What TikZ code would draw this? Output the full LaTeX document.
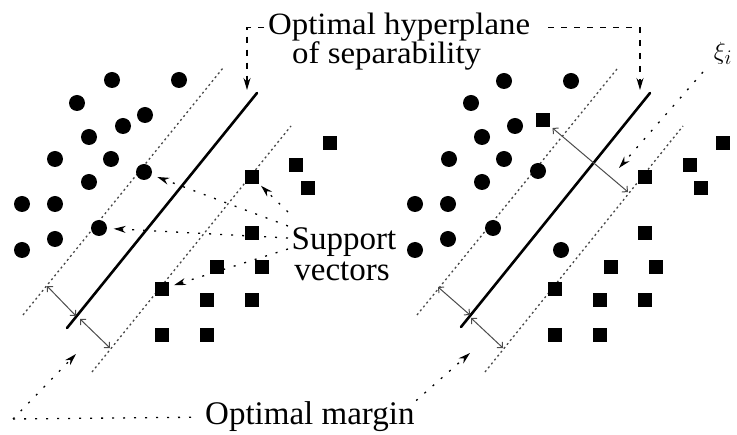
\documentclass[tikz,border=0pt]{standalone}
\usepackage{fontspec}
\setmainfont{Liberation Serif}
\newfontfamily\widefont[FakeStretch=1.06]{Liberation Serif}
\usetikzlibrary{arrows.meta}
\begin{document}
\begin{tikzpicture}[x=1pt,y=-1pt,
  dotn/.style={circle,fill=black,inner sep=0pt,minimum size=16pt},
  sqn/.style={rectangle,fill=black,inner sep=0pt,minimum size=14pt},
  hyper/.style={line width=2.6pt,line cap=round},
  marg/.style={line width=1.3pt,gray!55!black,dash pattern=on 2pt off 3pt},
  annot/.style={line width=1.3pt,dash pattern=on 2pt off 9pt,-{Stealth[length=12pt,width=7pt]}},
  plainann/.style={line width=1.3pt,dash pattern=on 2pt off 9pt},
  hyplab/.style={line width=1.3pt,dash pattern=on 6pt off 7pt,-{Stealth[length=12pt,width=7pt]}},
  dbl/.style={line width=1pt,gray!60!black,{Straight Barb[length=4pt,width=8pt]}-{Straight Barb[length=4pt,width=8pt]}},
  lab/.style={inner sep=0pt,font=\fontsize{33}{33}\selectfont},
  hlab/.style={inner sep=0pt,font=\widefont\fontsize{31}{31}\selectfont}
]
\useasboundingbox (0,0) rectangle (737,435);

% ---------- left panel lines ----------
\coordinate (LHa) at (67,328);  \coordinate (LHb) at (257,93);
\coordinate (LMa) at (23,315);  \coordinate (LMb) at (223,68);
\coordinate (LNa) at (92,372);  \coordinate (LNb) at (291,126);
\draw[marg] (LMa) -- (LMb);
\draw[marg] (LNa) -- (LNb);
\draw[hyper] (LHa) -- (LHb);

% ---------- right panel lines ----------
\coordinate (RHa) at (461,327); \coordinate (RHb) at (650,93);
\coordinate (RMa) at (417,315); \coordinate (RMb) at (617,69);
\coordinate (RNa) at (485,372); \coordinate (RNb) at (683,126);
\draw[marg] (RMa) -- (RMb);
\draw[marg] (RNa) -- (RNb);
\draw[hyper] (RHa) -- (RHb);

% ---------- left circles ----------
\foreach \n/\x/\y in {1/112/80,2/179/80,3/77/103,4/145/115,5/123/126,6/89/137,7/55/159,8/111/159,9/144/172,10/89/182,11/22/204,12/55/204,13/99/228,14/55/239,15/22/250}
  \node[dotn] (c\n) at (\x,\y) {};
% ---------- right circles ----------
\foreach \n/\x/\y in {1/504/81,2/571/81,3/471/103,4/515/126,5/482/137,6/449/159,7/504/159,8/538/171,9/482/182,10/415/204,11/448/204,12/493/228,13/448/239,14/415/250,15/561/250}
  \node[dotn] (d\n) at (\x,\y) {};
% ---------- left squares ----------
\foreach \n/\x/\y in {1/330/143,2/296/165,3/308/188,4/252/177,5/252/233,6/217/267,7/262/267,8/162/289,9/207/300,10/252/300,11/162/335,12/207/335}
  \node[sqn] (s\n) at (\x,\y) {};
% ---------- right squares ----------
\foreach \n/\x/\y in {1/543/120,2/723/143,3/690/165,4/701/188,5/645/177,6/645/233,7/611/267,8/656/267,9/555/289,10/600/300,11/645/300,12/555/335,13/600/335}
  \node[sqn] (t\n) at (\x,\y) {};

% ---------- margin double arrows ----------
\coordinate (la1) at (47,286);  \coordinate (la2) at (76,316);
\coordinate (la3) at (80,319);  \coordinate (la4) at (110,348);
\draw[dbl] (la1) -- (la2);
\draw[dbl] (la3) -- (la4);
\coordinate (ra1) at (438,287); \coordinate (ra2) at (470,315);
\coordinate (ra3) at (471,318); \coordinate (ra4) at (503,348);
\draw[dbl] (ra1) -- (ra2);
\draw[dbl] (ra3) -- (ra4);
\coordinate (rx2) at (628,192);
\draw[dbl, shorten <=3pt] (t1) -- (rx2);

% ---------- labels ----------
\node[hlab,anchor=base west] (hyp1) at (268,35) {Optimal hyperplane};
\node[hlab,anchor=base west] (hyp2) at (292,64) {of separability};
\node[lab,anchor=base] (sup1) at (344,250) {Support};
\node[lab,anchor=base] (sup2) at (342,281) {vectors};
\node[lab,anchor=base west] (mar) at (205,425) {Optimal margin};
\node[inner sep=0pt,font=\fontsize{32}{32}\selectfont] (xi) at (723,53) {$\xi_i$};

% ---------- hyperplane pointers ----------
\coordinate (ha1) at (247,90);
\coordinate (ha2) at (640,90);
\draw[hyplab, shorten <=4pt] (hyp1.west) -| (ha1);
\draw[hyplab, shorten <=18pt] (hyp1.east) -| (ha2);

% ---------- support vector pointers ----------
\coordinate (p1) at (288,226);
\coordinate (p2) at (288,212);
\coordinate (p3) at (288,238);
\coordinate (p4) at (288,249);
\draw[annot, shorten >=6pt] (p1) -- (c9);
\draw[annot, shorten >=2.5pt] (p2) -- (s4);
\draw[annot, shorten >=6.5pt] (p3) -- (c13);
\draw[annot, shorten >=5pt] (p4) -- (s8);

% ---------- optimal margin pointers ----------
\coordinate (mc) at (13,419);
\coordinate (mt1) at (76,354);
\coordinate (mt2) at (470,353);
\draw[plainann, shorten <=14pt] (mar.west) -- (mc);
\draw[annot] (mc) -- (mt1);
\draw[annot, shorten <=2pt] (mar.north east) -- (mt2);

% ---------- xi pointer ----------
\coordinate (xs) at (703,72);
\coordinate (xt) at (619,168);
\draw[annot] (xs) -- (xt);
\end{tikzpicture}
\end{document}
